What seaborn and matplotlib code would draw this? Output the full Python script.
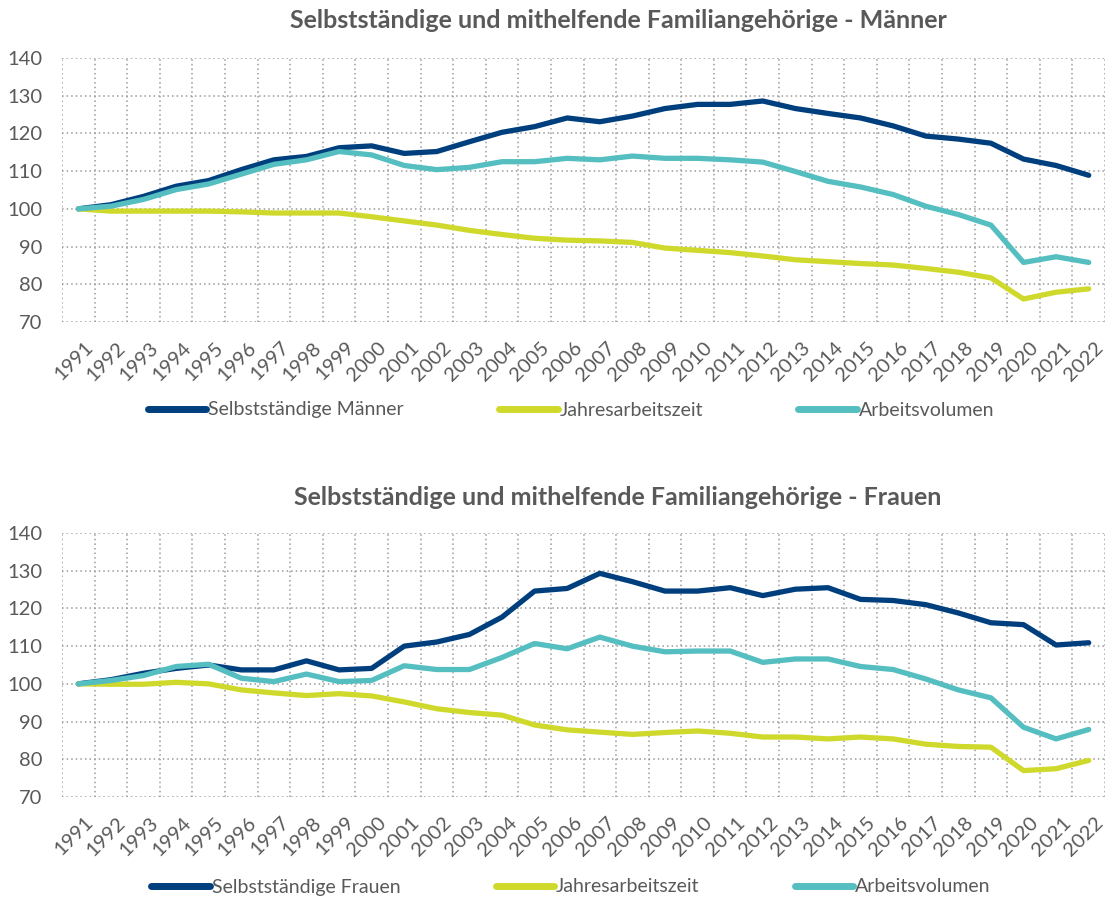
import matplotlib
matplotlib.use("Agg")
import matplotlib.pyplot as plt
import matplotlib.transforms as mtransforms
import seaborn as sns
import pandas as pd
import numpy as np

jahre = list(range(1991, 2023))

# Männer
m_selbst = [100, 101.1, 103.3, 106.0, 107.5, 110.4, 113.0, 113.9, 116.2, 116.7,
            114.7, 115.2, 117.8, 120.3, 121.8, 124.1, 123.1, 124.6, 126.6, 127.7,
            127.7, 128.6, 126.6, 125.3, 124.1, 122.0, 119.3, 118.5, 117.4, 113.2,
            111.5, 108.9]
m_zeit = [100, 99.4, 99.4, 99.4, 99.4, 99.2, 98.9, 98.9, 98.9, 97.9,
          96.8, 95.7, 94.3, 93.2, 92.2, 91.7, 91.5, 91.1, 89.6, 89.0,
          88.4, 87.5, 86.5, 86.0, 85.5, 85.1, 84.2, 83.2, 81.7, 76.1,
          77.9, 78.8]
m_volumen = [100, 100.7, 102.5, 105.1, 106.6, 109.2, 111.8, 113.0, 115.2, 114.3,
             111.5, 110.4, 111.0, 112.5, 112.5, 113.4, 113.0, 114.0, 113.4, 113.4,
             113.0, 112.4, 109.9, 107.3, 105.8, 103.8, 100.7, 98.5, 95.7, 85.8,
             87.3, 85.8]

# Frauen
f_selbst = [100, 101.1, 102.8, 104.1, 105.0, 103.7, 103.7, 106.1, 103.7, 104.1,
            110.0, 111.1, 113.1, 117.7, 124.6, 125.3, 129.3, 127.1, 124.6, 124.6,
            125.5, 123.4, 125.1, 125.5, 122.4, 122.1, 121.0, 118.8, 116.2, 115.7,
            110.3, 110.9]
f_zeit = [100, 99.9, 99.9, 100.4, 100.0, 98.4, 97.6, 96.9, 97.4, 96.8,
          95.2, 93.4, 92.4, 91.7, 89.1, 87.8, 87.2, 86.6, 87.1, 87.5,
          86.9, 85.9, 85.9, 85.4, 85.9, 85.4, 84.0, 83.4, 83.2, 77.0,
          77.5, 79.7]
f_volumen = [100, 100.9, 102.2, 104.6, 105.2, 101.5, 100.6, 102.6, 100.6, 100.9,
             104.8, 103.8, 103.8, 107.0, 110.7, 109.3, 112.4, 110.0, 108.5, 108.7,
             108.7, 105.7, 106.6, 106.6, 104.6, 103.8, 101.3, 98.4, 96.3, 88.5,
             85.4, 87.9]

farben = ["#003F7D", "#CFD92B", "#55BEC0"]
grau = "#595959"

sns.set_theme(style="white")
plt.rcParams["font.family"] = ["Lato", "DejaVu Sans"]


def zeichne(ax, werte, namen, titel, title_y, legend_y, fig):
    df = pd.DataFrame({
        "x": np.tile(np.arange(len(jahre)), 3),
        "wert": werte[0] + werte[1] + werte[2],
        "reihe": np.repeat(namen, len(jahre)),
    })
    sns.lineplot(data=df, x="x", y="wert", hue="reihe", palette=farben,
                 linewidth=3.8, ax=ax, legend=True)
    for line in ax.lines:
        line.set_solid_capstyle("round")
        line.set_solid_joinstyle("round")

    ax.set_xlim(-0.5, len(jahre) - 0.5)
    ax.set_ylim(70, 140)
    ax.set_yticks(range(70, 141, 10))
    ax.set_xticks(range(len(jahre)))
    ax.set_xticklabels([str(j) for j in jahre], rotation=45, ha="right",
                       rotation_mode="anchor")
    ax.set_xticks(np.arange(-0.5, len(jahre), 1), minor=True)
    ax.tick_params(axis="both", which="both", length=0, labelsize=14.5,
                   labelcolor=grau)
    ax.tick_params(axis="x", pad=12)
    ax.tick_params(axis="y", pad=14)
    verschiebung = mtransforms.ScaledTranslation(0.06, 0, fig.dpi_scale_trans)
    for lab in ax.get_xticklabels():
        lab.set_transform(lab.get_transform() + verschiebung)
    ax.grid(False)
    ax.grid(axis="x", which="minor", color="#9a9a9a", linestyle=(0, (1, 2)),
            linewidth=1.1)
    ax.grid(axis="y", which="major", color="#9a9a9a", linestyle=(0, (1, 2)),
            linewidth=1.1)
    for s in ax.spines.values():
        s.set_visible(False)
    ax.set_xlabel("")
    ax.set_ylabel("")

    fig.text(618 / 1108, title_y, titel, ha="center", va="center",
             fontsize=18, fontweight="bold", color=grau)

    handles, labels = ax.get_legend_handles_labels()
    ax.legend(handles, labels, loc="center", bbox_to_anchor=(571 / 1108, legend_y),
              bbox_transform=fig.transFigure, ncol=3, frameon=False,
              fontsize=14, handlelength=3.0, handletextpad=0.1,
              columnspacing=4.9, labelcolor=grau)
    for h in ax.get_legend().get_lines():
        h.set_linewidth(5)
        h.set_solid_capstyle("round")


fig = plt.figure(figsize=(11.08, 8.99), dpi=100)
ax1 = fig.add_axes([62 / 1108, 1 - 322 / 899, (1105 - 62) / 1108, (322 - 58) / 899])
ax2 = fig.add_axes([62 / 1108, 1 - 797 / 899, (1105 - 62) / 1108, (797 - 533) / 899])

zeichne(ax1, [m_selbst, m_zeit, m_volumen],
        ["Selbstständige Männer", "Jahresarbeitszeit", "Arbeitsvolumen"],
        "Selbstständige und mithelfende Familiangehörige - Männer",
        1 - 20 / 899, 1 - 410 / 899, fig)
zeichne(ax2, [f_selbst, f_zeit, f_volumen],
        ["Selbstständige Frauen", "Jahresarbeitszeit", "Arbeitsvolumen"],
        "Selbstständige und mithelfende Familiangehörige - Frauen",
        1 - 497 / 899, 1 - 887 / 899, fig)

fig.savefig("out.png", dpi=100, facecolor="white")
